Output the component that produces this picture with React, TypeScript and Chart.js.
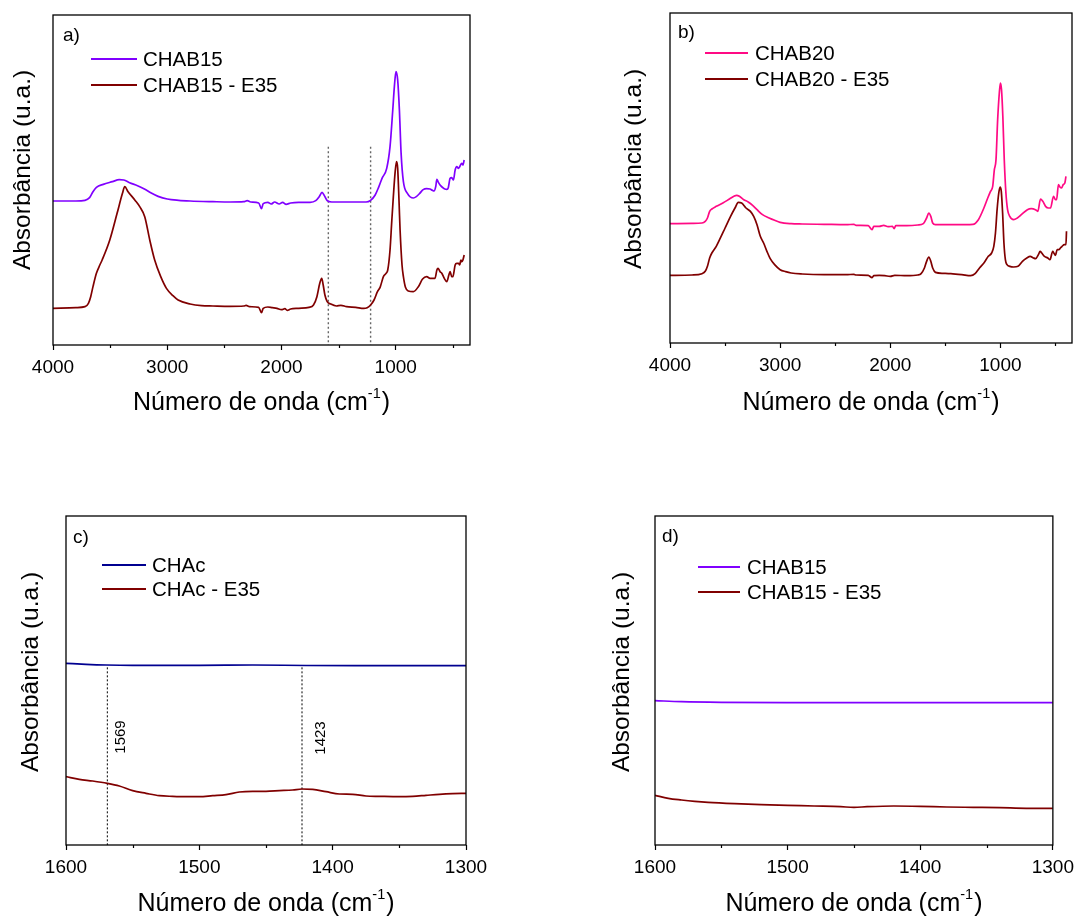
import React, { useEffect, useRef } from "react";
import { Chart, registerables } from "chart.js";
Chart.register(...registerables);

const FONT = "'Liberation Sans', Arial, Helvetica, sans-serif";

// ---------- Panel a) ----------
const A_CHAB15_X = [4000, 3800, 3720, 3680, 3650, 3620, 3560, 3480, 3420, 3380, 3330, 3260, 3200, 3140, 3080, 3000, 2900, 2800, 2600, 2450, 2330, 2300, 2270, 2200, 2175, 2160, 2120, 2090, 2060, 2020, 1990, 1960, 1920, 1850, 1750, 1700, 1670, 1645, 1625, 1600, 1560, 1400, 1260, 1220, 1180, 1150, 1120, 1079, 1050, 1026, 1012, 998, 983, 968, 953, 933, 898, 845, 820, 790, 760, 730, 700, 680, 665, 650, 640, 630, 612, 595, 575, 553, 540, 524, 510, 495, 480, 466, 451, 440, 422, 412, 401];
const A_CHAB15_Y = [43.2, 43.2, 43.4, 44.2, 46.0, 47.3, 48.2, 49.0, 49.6, 49.5, 48.7, 47.8, 46.8, 45.6, 44.6, 43.8, 43.4, 43.2, 43.0, 42.9, 43.0, 43.3, 42.9, 42.6, 40.9, 42.4, 42.8, 42.3, 42.9, 42.3, 42.8, 42.2, 42.6, 42.8, 42.8, 43.3, 44.5, 45.8, 44.8, 43.3, 42.9, 42.9, 42.9, 43.4, 45.0, 47.3, 50.0, 53.0, 59.5, 70.5, 77.5, 82.0, 79.5, 70.5, 57.5, 49.0, 45.5, 44.1, 44.5, 45.5, 46.6, 46.9, 46.8, 46.4, 46.2, 47.5, 49.7, 49.0, 48.0, 47.4, 46.9, 46.7, 47.2, 50.0, 50.2, 49.5, 52.5, 53.5, 53.0, 53.5, 54.5, 54.0, 55.5];
const A_E35_X = [4000, 3800, 3720, 3690, 3670, 3650, 3620, 3590, 3570, 3503, 3439, 3392, 3372, 3343, 3284, 3241, 3197, 3153, 3110, 3057, 3007, 2950, 2905, 2800, 2700, 2600, 2450, 2330, 2310, 2280, 2200, 2175, 2160, 2120, 2080, 2040, 2000, 1970, 1950, 1920, 1850, 1760, 1720, 1690, 1665, 1648, 1635, 1620, 1600, 1570, 1520, 1480, 1430, 1350, 1280, 1250, 1220, 1190, 1160, 1137, 1108, 1085, 1070, 1050, 1035, 1021, 1005, 993, 983, 970, 962, 945, 933, 915, 890, 846, 802, 765, 729, 700, 685, 656, 640, 630, 612, 597, 575, 553, 535, 524, 510, 500, 480, 466, 451, 440, 430, 422, 412, 401];
const A_E35_Y = [11.0, 11.2, 11.5, 12.5, 14.5, 17.5, 21.5, 24.0, 25.5, 31.5, 39.5, 45.5, 47.5, 46.0, 43.5, 41.5, 38.5, 31.5, 25.5, 20.5, 17.0, 14.8, 13.5, 12.3, 11.8, 11.7, 11.6, 11.7, 11.9, 11.5, 11.3, 9.7, 11.0, 11.4, 11.2, 11.0, 10.6, 10.9, 10.4, 10.8, 11.0, 11.3, 12.0, 14.5, 18.5, 20.0, 18.0, 15.0, 13.0, 12.3, 11.7, 11.9, 11.5, 11.3, 11.0, 11.2, 12.0, 13.5, 16.0, 17.3, 20.5, 21.5, 22.5, 28.5, 37.0, 44.5, 52.0, 55.0, 53.0, 42.0, 34.5, 24.0, 20.5, 17.3, 16.2, 16.0, 17.5, 19.8, 20.5, 20.0, 20.0, 20.0, 22.5, 23.0, 22.0, 21.5, 20.0, 19.0, 21.0, 22.0, 20.5, 20.5, 24.0, 24.5, 24.5, 24.0, 25.5, 25.0, 25.5, 27.0];
const A_MARK_X = [1590, 1220];
const A_MARK_TOP = 59.5;

// ---------- Panel b) ----------
const B_CHAB20_X = [4000, 3800, 3710, 3680, 3660, 3640, 3620, 3580, 3520, 3460, 3420, 3395, 3370, 3330, 3290, 3250, 3210, 3160, 3100, 3050, 3000, 2900, 2800, 2600, 2400, 2330, 2310, 2200, 2165, 2150, 2100, 2060, 2020, 1980, 1965, 1950, 1850, 1750, 1700, 1670, 1650, 1632, 1615, 1590, 1500, 1400, 1250, 1200, 1150, 1115, 1090, 1070, 1055, 1040, 1025, 1010, 1000, 990, 978, 965, 950, 935, 915, 880, 846, 810, 755, 720, 682, 660, 636, 615, 590, 564, 545, 518, 500, 490, 473, 460, 445, 430, 415, 405];
const B_CHAB20_Y = [35.8, 35.9, 36.0, 36.5, 37.5, 39.5, 40.2, 41.0, 42.0, 43.2, 44.0, 44.3, 44.0, 43.0, 42.3, 41.3, 40.0, 38.5, 37.5, 36.8, 36.2, 35.8, 35.7, 35.6, 35.5, 35.6, 35.3, 35.2, 34.0, 35.0, 35.0, 35.3, 34.9, 35.0, 34.3, 35.2, 35.2, 35.4, 35.8, 37.5, 39.0, 38.0, 36.0, 35.5, 35.5, 35.5, 35.6, 37.0, 40.5, 43.5, 45.5, 47.0, 52.0, 55.0, 67.0, 75.0, 78.0, 76.0, 68.0, 55.0, 45.0, 40.0, 38.0, 37.0, 37.5, 38.5, 40.0, 40.3, 40.0, 39.5, 43.2, 42.5, 41.0, 40.5, 40.5, 44.0, 43.0, 43.0, 47.5, 46.8, 46.5, 47.5, 48.0, 50.0];
const B_E35_X = [4000, 3800, 3710, 3680, 3660, 3640, 3620, 3580, 3550, 3500, 3450, 3410, 3380, 3350, 3310, 3270, 3240, 3210, 3180, 3150, 3120, 3090, 3050, 3000, 2950, 2900, 2800, 2600, 2400, 2330, 2310, 2200, 2165, 2150, 2100, 2050, 2000, 1960, 1850, 1750, 1720, 1690, 1670, 1650, 1632, 1615, 1590, 1520, 1450, 1350, 1270, 1230, 1190, 1150, 1110, 1080, 1060, 1045, 1030, 1015, 1003, 992, 980, 968, 955, 940, 915, 880, 840, 800, 760, 730, 700, 680, 655, 640, 625, 600, 570, 550, 525, 515, 500, 485, 470, 455, 440, 420, 405, 400];
const B_E35_Y = [20.3, 20.4, 20.8, 21.5, 23.0, 25.5, 27.0, 29.0, 31.0, 34.5, 38.0, 40.5, 42.2, 42.0, 40.5, 39.5, 38.0, 35.5, 32.0, 30.0, 27.5, 25.3, 23.5, 22.0, 21.4, 21.0, 20.7, 20.5, 20.5, 20.6, 20.4, 20.3, 19.6, 20.2, 20.3, 20.2, 20.0, 20.3, 20.2, 20.4, 20.8, 22.5, 24.5, 25.8, 24.5, 22.5, 21.2, 20.9, 20.8, 20.5, 20.2, 20.8, 22.5, 24.0, 26.0, 27.0, 29.0, 33.0, 40.0, 45.0, 46.8, 45.5, 39.0, 30.0, 25.0, 23.5, 23.0, 22.8, 23.0, 24.5, 25.5, 26.0, 25.5, 25.3, 26.5, 27.5, 27.0, 26.0, 25.5, 25.0, 27.5, 27.0, 26.3, 28.0, 28.0, 28.5, 29.0, 29.5, 29.5, 33.5];

// ---------- Panel c) ----------
const C_CHAC_X = [1600, 1585, 1570, 1550, 1500, 1460, 1420, 1380, 1340, 1300];
const C_CHAC_Y = [54.5, 54.2, 54.0, 53.9, 53.9, 54.0, 53.85, 53.8, 53.8, 53.8];
const C_E35_X = [1600, 1590, 1580, 1569, 1560, 1550, 1540, 1530, 1520, 1510, 1500, 1490, 1480, 1470, 1460, 1450, 1440, 1430, 1423, 1415, 1405, 1395, 1385, 1375, 1365, 1350, 1340, 1330, 1320, 1310, 1300];
const C_E35_Y = [20.5, 19.7, 19.2, 18.5, 17.7, 16.3, 15.5, 14.8, 14.6, 14.5, 14.5, 14.8, 15.1, 15.9, 16.1, 16.1, 16.3, 16.5, 16.8, 16.7, 16.0, 15.3, 15.2, 14.7, 14.6, 14.5, 14.6, 14.9, 15.2, 15.4, 15.5];
const C_MARK_X = [1569, 1423];
const C_MARK_LABELS = ["1569", "1423"];
const C_MARK_TOP = 53.3;

// ---------- Panel d) ----------
const D_CHAB15_X = [1600, 1580, 1550, 1500, 1400, 1300];
const D_CHAB15_Y = [43.3, 43.0, 42.8, 42.7, 42.7, 42.7];
const D_E35_X = [1600, 1590, 1580, 1570, 1560, 1540, 1520, 1500, 1480, 1460, 1450, 1440, 1420, 1400, 1380, 1360, 1340, 1320, 1300];
const D_E35_Y = [14.9, 14.0, 13.5, 13.1, 12.8, 12.4, 12.1, 11.9, 11.7, 11.5, 11.3, 11.5, 11.7, 11.6, 11.4, 11.3, 11.2, 11.0, 11.0];

// ---------- Ticks ----------
const WIDE_MAJOR_TICKS = [4000, 3000, 2000, 1000];
const WIDE_MINOR_TICKS = [3500, 2500, 1500, 500];
const NARROW_MAJOR_TICKS = [1600, 1500, 1400, 1300];
const NARROW_MINOR_TICKS = [1550, 1450, 1350];

const Y_TITLE = "Absorbância (u.a.)";
const X_TITLE = "Número de onda (cm";
const X_TITLE_SUP = "-1";

const PURPLE = "#8000ff";
const PINK = "#ff0a84";
const MAROON = "#800000";
const NAVY = "#000090";

type Series = { label: string; x: number[]; y: number[]; color: string };
type Panel = {
  key: string;
  tag: string;
  left: number; top: number; w: number; h: number;
  pad: { left: number; top: number; right: number };
  xAxisH: number;
  xMin: number; xMax: number;
  majors: number[]; minors: number[];
  yMax: number;
  series: Series[];
  marks?: { xs: number[]; top: number; color: string; dash: number[]; width: number; labels?: string[]; labelPos?: number[][] };
  yTitle: number[];
  xTitleY: number;
  legend: { x1: number; x2: number; tx: number; ys: number[] };
  tagPos: number[];
};

const PANELS: Panel[] = [
  {
    key: "a", tag: "a)", left: 0, top: 0, w: 540, h: 460,
    pad: { left: 53, top: 15, right: 70 }, xAxisH: 115,
    xMin: 350, xMax: 4000, majors: WIDE_MAJOR_TICKS, minors: WIDE_MINOR_TICKS, yMax: 99,
    series: [
      { label: "CHAB15", x: A_CHAB15_X, y: A_CHAB15_Y, color: PURPLE },
      { label: "CHAB15 - E35", x: A_E35_X, y: A_E35_Y, color: MAROON },
    ],
    marks: { xs: A_MARK_X, top: A_MARK_TOP, color: "#666666", dash: [2, 2.5], width: 1.4 },
    yTitle: [23, 170], xTitleY: 403,
    legend: { x1: 91, x2: 137, tx: 143, ys: [59, 85] },
    tagPos: [63, 36],
  },
  {
    key: "b", tag: "b)", left: 540, top: 0, w: 540, h: 460,
    pad: { left: 130, top: 13, right: 8 }, xAxisH: 117,
    xMin: 350, xMax: 4000, majors: WIDE_MAJOR_TICKS, minors: WIDE_MINOR_TICKS, yMax: 99,
    series: [
      { label: "CHAB20", x: B_CHAB20_X, y: B_CHAB20_Y, color: PINK },
      { label: "CHAB20 - E35", x: B_E35_X, y: B_E35_Y, color: MAROON },
    ],
    yTitle: [94, 169], xTitleY: 403,
    legend: { x1: 165, x2: 208, tx: 215, ys: [53, 79] },
    tagPos: [138, 33],
  },
  {
    key: "c", tag: "c)", left: 0, top: 460, w: 540, h: 459,
    pad: { left: 66, top: 56, right: 74 }, xAxisH: 74,
    xMin: 1300, xMax: 1600, majors: NARROW_MAJOR_TICKS, minors: NARROW_MINOR_TICKS, yMax: 98.7,
    series: [
      { label: "CHAc", x: C_CHAC_X, y: C_CHAC_Y, color: NAVY },
      { label: "CHAc - E35", x: C_E35_X, y: C_E35_Y, color: MAROON },
    ],
    marks: { xs: C_MARK_X, top: C_MARK_TOP, color: "#000000", dash: [2, 2], width: 1, labels: C_MARK_LABELS, labelPos: [[121, 277], [321, 278]] },
    yTitle: [31, 212], xTitleY: 444,
    legend: { x1: 102, x2: 146, tx: 152, ys: [105, 129] },
    tagPos: [73, 78],
  },
  {
    key: "d", tag: "d)", left: 540, top: 460, w: 540, h: 459,
    pad: { left: 115, top: 56, right: 24 }, xAxisH: 74,
    xMin: 1300, xMax: 1600, majors: NARROW_MAJOR_TICKS, minors: NARROW_MINOR_TICKS, yMax: 98.7,
    series: [
      { label: "CHAB15", x: D_CHAB15_X, y: D_CHAB15_Y, color: PURPLE },
      { label: "CHAB15 - E35", x: D_E35_X, y: D_E35_Y, color: MAROON },
    ],
    yTitle: [82, 212], xTitleY: 444,
    legend: { x1: 158, x2: 200, tx: 207, ys: [107, 132] },
    tagPos: [122, 77],
  },
];

function decoPlugin(p: Panel) {
  return {
    id: "deco_" + p.key,
    afterDraw(chart: any) {
      const ctx = chart.ctx as CanvasRenderingContext2D;
      const ca = chart.chartArea;
      const xs = chart.scales.x;
      ctx.save();
      // frame
      ctx.strokeStyle = "#000";
      ctx.lineWidth = 1.3;
      ctx.strokeRect(ca.left, ca.top, ca.right - ca.left, ca.bottom - ca.top);
      // minor ticks
      ctx.lineWidth = 1.2;
      p.minors.forEach((v) => {
        const px = Math.round(xs.getPixelForValue(v)) + 0.5;
        ctx.beginPath();
        ctx.moveTo(px, ca.bottom);
        ctx.lineTo(px, ca.bottom + 3);
        ctx.stroke();
      });
      ctx.fillStyle = "#000";
      // panel tag
      ctx.font = `19px ${FONT}`;
      ctx.textBaseline = "middle";
      ctx.textAlign = "left";
      ctx.fillText(p.tag, p.tagPos[0], p.tagPos[1]);
      // legend
      p.series.forEach((s, i) => {
        const y = p.legend.ys[i];
        ctx.strokeStyle = s.color;
        ctx.lineWidth = 2;
        ctx.beginPath();
        ctx.moveTo(p.legend.x1, y);
        ctx.lineTo(p.legend.x2, y);
        ctx.stroke();
        ctx.font = `20.5px ${FONT}`;
        ctx.fillStyle = "#000";
        ctx.fillText(s.label, p.legend.tx, y + 1);
      });
      // mark labels
      if (p.marks && p.marks.labels && p.marks.labelPos) {
        ctx.font = `15px ${FONT}`;
        ctx.textAlign = "center";
        p.marks.labels.forEach((t, i) => {
          const [lx, ly] = p.marks!.labelPos![i];
          ctx.save();
          ctx.translate(lx, ly);
          ctx.rotate(-Math.PI / 2);
          ctx.fillText(t, 0, 0);
          ctx.restore();
        });
      }
      // y title
      ctx.font = `24.5px ${FONT}`;
      ctx.textAlign = "center";
      ctx.save();
      ctx.translate(p.yTitle[0], p.yTitle[1]);
      ctx.rotate(-Math.PI / 2);
      ctx.fillText(Y_TITLE, 0, 0);
      ctx.restore();
      // x title with superscript
      const big = `25px ${FONT}`;
      const small = `14.5px ${FONT}`;
      ctx.textAlign = "left";
      ctx.font = big;
      const w1 = ctx.measureText(X_TITLE).width;
      const w3 = ctx.measureText(")").width;
      ctx.font = small;
      const w2 = ctx.measureText(X_TITLE_SUP).width;
      const total = w1 + w2 + w3 + 1;
      const cx = (ca.left + ca.right) / 2;
      let x = cx - total / 2;
      const y = p.xTitleY;
      ctx.font = big;
      ctx.fillText(X_TITLE, x, y);
      x += w1;
      ctx.font = small;
      ctx.fillText(X_TITLE_SUP, x, y - 9);
      x += w2 + 1;
      ctx.font = big;
      ctx.fillText(")", x, y);
      ctx.restore();
    },
  };
}

function PanelChart({ p }: { p: Panel }) {
  const ref = useRef<HTMLCanvasElement | null>(null);
  useEffect(() => {
    if (!ref.current) return;
    const datasets: any[] = p.series.map((s) => ({
      label: s.label,
      data: s.x.map((xv, i) => ({ x: xv, y: s.y[i] })),
      borderColor: s.color,
      backgroundColor: s.color,
      borderWidth: 1.7,
      pointRadius: 0,
      cubicInterpolationMode: "monotone",
      fill: false,
    }));
    if (p.marks) {
      p.marks.xs.forEach((mx) => {
        datasets.push({
          label: "mark",
          data: [{ x: mx, y: p.marks!.top }, { x: mx, y: 0 }],
          borderColor: p.marks!.color,
          borderWidth: p.marks!.width,
          borderDash: p.marks!.dash,
          pointRadius: 0,
          fill: false,
        });
      });
    }
    const chart = new Chart(ref.current, {
      type: "line",
      data: { datasets },
      options: {
        animation: false,
        responsive: false,
        devicePixelRatio: 1,
        layout: { padding: { left: p.pad.left, top: p.pad.top, right: p.pad.right, bottom: 0 } },
        plugins: { legend: { display: false }, tooltip: { enabled: false }, title: { display: false } },
        scales: {
          x: {
            type: "linear",
            reverse: true,
            min: p.xMin,
            max: p.xMax,
            afterBuildTicks: (scale: any) => {
              scale.ticks = p.majors.map((v) => ({ value: v }));
            },
            afterFit: (scale: any) => { scale.height = p.xAxisH; },
            border: { display: false },
            grid: { drawOnChartArea: false, drawTicks: true, tickLength: 5, color: "#000", tickWidth: 1.2 },
            ticks: {
              autoSkip: false,
              maxRotation: 0,
              padding: 6,
              color: "#000",
              font: { family: FONT, size: 19 },
              callback: (v: any) => String(v),
            },
          },
          y: { display: false, min: 0, max: p.yMax },
        },
      } as any,
      plugins: [decoPlugin(p)],
    });
    return () => chart.destroy();
  }, [p]);
  return (
    <canvas
      ref={ref}
      width={p.w}
      height={p.h}
      style={{ position: "absolute", left: p.left, top: p.top, width: p.w, height: p.h }}
    />
  );
}

export default function App() {
  return (
    <div style={{ position: "absolute", left: 0, top: 0, width: 1080, height: 919, background: "#fff", overflow: "hidden" }}>
      {PANELS.map((p) => (
        <PanelChart key={p.key} p={p} />
      ))}
    </div>
  );
}
